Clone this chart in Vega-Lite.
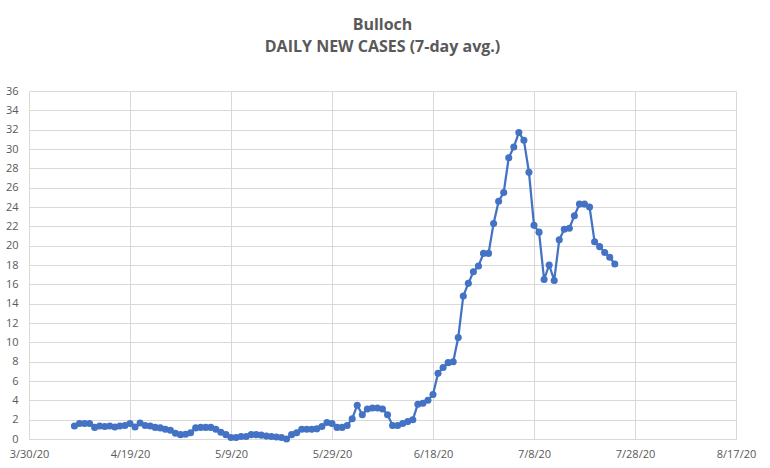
{
  "$schema": "https://vega.github.io/schema/vega-lite/v6.json",
  "width": 707,
  "height": 348,
  "autosize": {"type": "none"},
  "padding": {"left": 29, "top": 91, "right": 34, "bottom": 29},
  "background": "white",
  "config": {"view": {"stroke": null}},
  "title": {
    "text": ["Bulloch", "DAILY NEW CASES (7-day avg.)"],
    "font": "Open Sans",
    "fontSize": 16,
    "fontWeight": "bold",
    "color": "#595959",
    "anchor": "middle",
    "lineHeight": 22,
    "offset": 30
  },
  "data": {
    "values": [
      {"date": "2020-04-08", "cases": 1.35},
      {"date": "2020-04-09", "cases": 1.6},
      {"date": "2020-04-10", "cases": 1.6},
      {"date": "2020-04-11", "cases": 1.6},
      {"date": "2020-04-12", "cases": 1.2},
      {"date": "2020-04-13", "cases": 1.35},
      {"date": "2020-04-14", "cases": 1.3},
      {"date": "2020-04-15", "cases": 1.35},
      {"date": "2020-04-16", "cases": 1.25},
      {"date": "2020-04-17", "cases": 1.35},
      {"date": "2020-04-18", "cases": 1.4},
      {"date": "2020-04-19", "cases": 1.6},
      {"date": "2020-04-20", "cases": 1.25},
      {"date": "2020-04-21", "cases": 1.65},
      {"date": "2020-04-22", "cases": 1.4},
      {"date": "2020-04-23", "cases": 1.35},
      {"date": "2020-04-24", "cases": 1.2},
      {"date": "2020-04-25", "cases": 1.15},
      {"date": "2020-04-26", "cases": 1.0},
      {"date": "2020-04-27", "cases": 0.9},
      {"date": "2020-04-28", "cases": 0.6},
      {"date": "2020-04-29", "cases": 0.45},
      {"date": "2020-04-30", "cases": 0.5},
      {"date": "2020-05-01", "cases": 0.65},
      {"date": "2020-05-02", "cases": 1.15},
      {"date": "2020-05-03", "cases": 1.2},
      {"date": "2020-05-04", "cases": 1.2},
      {"date": "2020-05-05", "cases": 1.2},
      {"date": "2020-05-06", "cases": 1.0},
      {"date": "2020-05-07", "cases": 0.7},
      {"date": "2020-05-08", "cases": 0.45},
      {"date": "2020-05-09", "cases": 0.15},
      {"date": "2020-05-10", "cases": 0.15},
      {"date": "2020-05-11", "cases": 0.25},
      {"date": "2020-05-12", "cases": 0.25},
      {"date": "2020-05-13", "cases": 0.45},
      {"date": "2020-05-14", "cases": 0.45},
      {"date": "2020-05-15", "cases": 0.4},
      {"date": "2020-05-16", "cases": 0.3},
      {"date": "2020-05-17", "cases": 0.25},
      {"date": "2020-05-18", "cases": 0.2},
      {"date": "2020-05-19", "cases": 0.15},
      {"date": "2020-05-20", "cases": 0.0},
      {"date": "2020-05-21", "cases": 0.45},
      {"date": "2020-05-22", "cases": 0.65},
      {"date": "2020-05-23", "cases": 1.0},
      {"date": "2020-05-24", "cases": 1.0},
      {"date": "2020-05-25", "cases": 1.0},
      {"date": "2020-05-26", "cases": 1.05},
      {"date": "2020-05-27", "cases": 1.3},
      {"date": "2020-05-28", "cases": 1.7},
      {"date": "2020-05-29", "cases": 1.6},
      {"date": "2020-05-30", "cases": 1.2},
      {"date": "2020-05-31", "cases": 1.2},
      {"date": "2020-06-01", "cases": 1.4},
      {"date": "2020-06-02", "cases": 2.1},
      {"date": "2020-06-03", "cases": 3.5},
      {"date": "2020-06-04", "cases": 2.5},
      {"date": "2020-06-05", "cases": 3.1},
      {"date": "2020-06-06", "cases": 3.2},
      {"date": "2020-06-07", "cases": 3.2},
      {"date": "2020-06-08", "cases": 3.1},
      {"date": "2020-06-09", "cases": 2.5},
      {"date": "2020-06-10", "cases": 1.4},
      {"date": "2020-06-11", "cases": 1.4},
      {"date": "2020-06-12", "cases": 1.6},
      {"date": "2020-06-13", "cases": 1.8},
      {"date": "2020-06-14", "cases": 2.0},
      {"date": "2020-06-15", "cases": 3.6},
      {"date": "2020-06-16", "cases": 3.7},
      {"date": "2020-06-17", "cases": 4.0},
      {"date": "2020-06-18", "cases": 4.6},
      {"date": "2020-06-19", "cases": 6.8},
      {"date": "2020-06-20", "cases": 7.4},
      {"date": "2020-06-21", "cases": 7.9},
      {"date": "2020-06-22", "cases": 8.0},
      {"date": "2020-06-23", "cases": 10.5},
      {"date": "2020-06-24", "cases": 14.8},
      {"date": "2020-06-25", "cases": 16.1},
      {"date": "2020-06-26", "cases": 17.3},
      {"date": "2020-06-27", "cases": 17.9},
      {"date": "2020-06-28", "cases": 19.2},
      {"date": "2020-06-29", "cases": 19.2},
      {"date": "2020-06-30", "cases": 22.3},
      {"date": "2020-07-01", "cases": 24.6},
      {"date": "2020-07-02", "cases": 25.5},
      {"date": "2020-07-03", "cases": 29.1},
      {"date": "2020-07-04", "cases": 30.2},
      {"date": "2020-07-05", "cases": 31.7},
      {"date": "2020-07-06", "cases": 30.9},
      {"date": "2020-07-07", "cases": 27.6},
      {"date": "2020-07-08", "cases": 22.1},
      {"date": "2020-07-09", "cases": 21.4},
      {"date": "2020-07-10", "cases": 16.5},
      {"date": "2020-07-11", "cases": 18.0},
      {"date": "2020-07-12", "cases": 16.4},
      {"date": "2020-07-13", "cases": 20.6},
      {"date": "2020-07-14", "cases": 21.7},
      {"date": "2020-07-15", "cases": 21.8},
      {"date": "2020-07-16", "cases": 23.1},
      {"date": "2020-07-17", "cases": 24.3},
      {"date": "2020-07-18", "cases": 24.3},
      {"date": "2020-07-19", "cases": 24.0},
      {"date": "2020-07-20", "cases": 20.4},
      {"date": "2020-07-21", "cases": 19.9},
      {"date": "2020-07-22", "cases": 19.3},
      {"date": "2020-07-23", "cases": 18.8},
      {"date": "2020-07-24", "cases": 18.1}
    ]
  },
  "mark": {
    "type": "line",
    "color": "#4472C4",
    "strokeWidth": 2.25,
    "point": {"filled": true, "size": 50, "color": "#4472C4", "opacity": 1}
  },
  "encoding": {
    "x": {
      "field": "date",
      "type": "temporal",
      "scale": {
        "type": "utc",
        "nice": false,
        "domain": [
          {"year": 2020, "month": 3, "date": 30, "utc": true},
          {"year": 2020, "month": 8, "date": 17, "utc": true}
        ]
      },
      "axis": {
        "title": null,
        "values": [
          {"year": 2020, "month": 3, "date": 30, "utc": true},
          {"year": 2020, "month": 4, "date": 19, "utc": true},
          {"year": 2020, "month": 5, "date": 9, "utc": true},
          {"year": 2020, "month": 5, "date": 29, "utc": true},
          {"year": 2020, "month": 6, "date": 18, "utc": true},
          {"year": 2020, "month": 7, "date": 8, "utc": true},
          {"year": 2020, "month": 7, "date": 28, "utc": true},
          {"year": 2020, "month": 8, "date": 17, "utc": true}
        ],
        "labelExpr": "utcFormat(datum.value, '%-m/%-d/%y')",
        "grid": true,
        "gridColor": "#d9d9d9",
        "gridWidth": 1,
        "ticks": false,
        "tickSize": 0,
        "domain": true,
        "domainColor": "#d9d9d9",
        "labelFont": "Open Sans",
        "labelFontSize": 11,
        "labelColor": "#595959",
        "labelPadding": 9,
        "labelFlush": false,
        "labelOverlap": false
      }
    },
    "y": {
      "field": "cases",
      "type": "quantitative",
      "scale": {"domain": [0, 36], "nice": false},
      "axis": {
        "title": null,
        "values": [0, 2, 4, 6, 8, 10, 12, 14, 16, 18, 20, 22, 24, 26, 28, 30, 32, 34, 36],
        "grid": true,
        "gridColor": "#d9d9d9",
        "gridWidth": 1,
        "ticks": false,
        "tickSize": 0,
        "domain": false,
        "labelFont": "Open Sans",
        "labelFontSize": 11,
        "labelColor": "#595959",
        "labelPadding": 11,
        "labelOverlap": false
      }
    }
  }
}
